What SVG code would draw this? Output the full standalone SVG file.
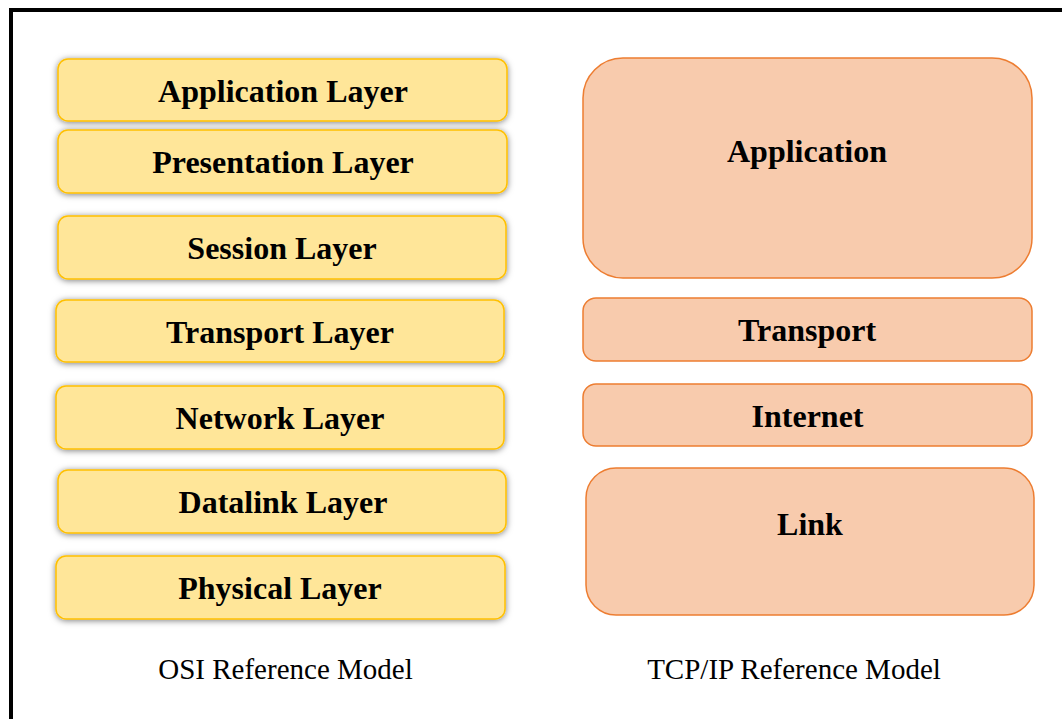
<svg xmlns="http://www.w3.org/2000/svg" width="1062" height="719" viewBox="0 0 1062 719">
<defs>
<filter id="sh" x="-10%" y="-40%" width="120%" height="180%">
<feDropShadow dx="0" dy="1" stdDeviation="3" flood-color="#000" flood-opacity="0.5"/>
</filter>
<style>
.osi{fill:#FFE699;stroke:#FFC000;stroke-width:1.5;filter:url(#sh)}
.tcp{fill:#F8CBAD;stroke:#ED7D31;stroke-width:1.5}
.lbl{font-family:"Liberation Serif","Times New Roman",serif;font-weight:bold;font-size:32px;fill:#000;text-anchor:middle}
.cap{font-family:"Liberation Serif","Times New Roman",serif;font-size:29px;fill:#000;text-anchor:middle}
</style>
</defs>
<rect x="0" y="0" width="1062" height="719" fill="#fff"/>
<rect x="11" y="10" width="1100" height="760" fill="none" stroke="#000" stroke-width="4"/>
<g id="osi-application"><rect class="osi" x="58" y="59" width="449" height="62" rx="10"/><text class="lbl" x="283" y="102">Application Layer</text></g>
<g id="osi-presentation"><rect class="osi" x="58" y="130" width="449" height="63" rx="10"/><text class="lbl" x="283" y="173">Presentation Layer</text></g>
<g id="osi-session"><rect class="osi" x="58" y="216" width="448" height="63" rx="10"/><text class="lbl" x="282" y="259">Session Layer</text></g>
<g id="osi-transport"><rect class="osi" x="56" y="300" width="448" height="62" rx="10"/><text class="lbl" x="280" y="343">Transport Layer</text></g>
<g id="osi-network"><rect class="osi" x="56" y="386" width="448" height="63" rx="10"/><text class="lbl" x="280" y="429">Network Layer</text></g>
<g id="osi-datalink"><rect class="osi" x="58" y="470" width="448" height="63" rx="10"/><text class="lbl" x="283" y="513">Datalink Layer</text></g>
<g id="osi-physical"><rect class="osi" x="56" y="556" width="449" height="63" rx="10"/><text class="lbl" x="280" y="599">Physical Layer</text></g>
<g id="tcp-application"><rect class="tcp" x="583" y="58" width="449" height="220" rx="40"/><text class="lbl" x="807" y="162">Application</text></g>
<g id="tcp-transport"><rect class="tcp" x="583" y="298" width="449" height="63" rx="13"/><text class="lbl" x="807" y="341">Transport</text></g>
<g id="tcp-internet"><rect class="tcp" x="583" y="384" width="449" height="62" rx="13"/><text class="lbl" x="807.5" y="427">Internet</text></g>
<g id="tcp-link"><rect class="tcp" x="586" y="468" width="448" height="147" rx="30"/><text class="lbl" x="810" y="535">Link</text></g>
<g id="connectors"></g>
<g id="captions">
<text class="cap" x="285.5" y="679">OSI Reference Model</text>
<text class="cap" x="794" y="679">TCP/IP Reference Model</text>
</g>
</svg>
